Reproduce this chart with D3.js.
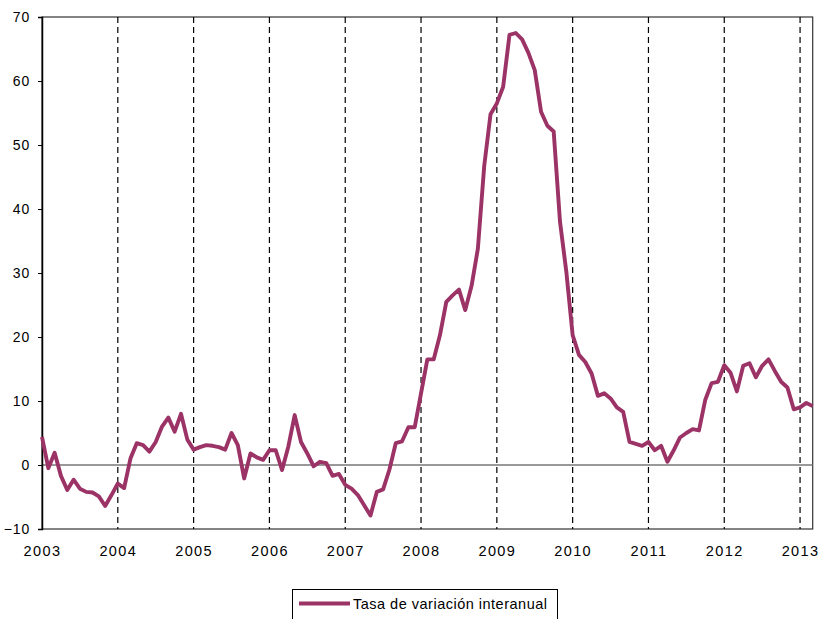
<!DOCTYPE html>
<html>
<head>
<meta charset="utf-8">
<script src="https://cdn.jsdelivr.net/npm/d3@7"></script>
<style>
  body { margin: 0; background: #fff; }
  svg { display: block; font-family: "Liberation Sans", Arial, sans-serif; }
</style>
</head>
<body>
<svg></svg>
<script>
const width = 819;
const height = 619;

// Monthly series, Jan 2003 .. Mar 2013
const seriesName = "Tasa de variación interanual";
const yearLabels = ["2003", "2004", "2005", "2006", "2007", "2008", "2009", "2010", "2011", "2012", "2013"];
const yTicks = [-10, 0, 10, 20, 30, 40, 50, 60, 70];
const values = [
    4.4, -0.5, 1.9, -1.7, -3.9, -2.3, -3.7, -4.2, -4.3, -4.9, -6.4, -4.7,
    -2.9, -3.6, 1.0, 3.4, 3.1, 2.1, 3.6, 6.0, 7.4, 5.2, 8.0, 4.0,
    2.4, 2.8, 3.1, 3.0, 2.8, 2.4, 5.0, 3.1, -2.1, 1.8, 1.2, 0.8,
    2.3, 2.3, -0.8, 2.9, 7.8, 3.6, 1.8, -0.2, 0.5, 0.3, -1.7, -1.4,
    -3.1, -3.7, -4.7, -6.3, -7.9, -4.2, -3.8, -0.7, 3.4, 3.7, 5.9, 5.9,
    11.2, 16.5, 16.5, 20.3, 25.5, 26.5, 27.4, 24.2, 28.0, 33.8, 46.7, 54.8,
    56.5, 59.1, 67.2, 67.5, 66.5, 64.4, 61.7, 55.2, 53.0, 52.1, 38.0, 30.2,
    20.3, 17.2, 16.1, 14.3, 10.8, 11.2, 10.4, 9.0, 8.3, 3.6, 3.3, 3.0,
    3.6, 2.3, 3.0, 0.5, 2.3, 4.3, 5.0, 5.6, 5.4, 10.2, 12.8, 13.0,
    15.6, 14.4, 11.5, 15.5, 15.9, 13.7, 15.5, 16.5, 14.7, 13.0, 12.1, 8.7,
    9.0, 9.7, 9.2
];
const months = d3.range(values.length);

const plot = { left: 42, right: 812.7, top: 17, bottom: 529 };
const color = "#9b3366";

const svg = d3.select("svg").attr("width", width).attr("height", height);

const x = d3.scaleLinear().domain([0, values.length - 1]).range([plot.left, plot.right]);
const y = d3.scaleLinear().domain([-10, 70]).range([plot.bottom, plot.top]);
const yearIdx = yearLabels.map((d, i) => i * 12);

// plot frame
svg.append("rect")
    .attr("x", plot.left).attr("y", plot.top)
    .attr("width", plot.right - plot.left).attr("height", plot.bottom - plot.top)
    .attr("fill", "none").attr("stroke", "#333").attr("stroke-width", 1.2);

// dashed year lines
svg.append("g").selectAll("line")
    .data(yearIdx.slice(1))
    .enter().append("line")
    .attr("x1", d => x(d)).attr("x2", d => x(d))
    .attr("y1", plot.top).attr("y2", plot.bottom)
    .attr("stroke", "#000").attr("stroke-width", 1.2)
    .attr("stroke-dasharray", "6,4");

// zero line
svg.append("line")
    .attr("x1", plot.left).attr("x2", plot.right)
    .attr("y1", y(0)).attr("y2", y(0))
    .attr("stroke", "#777").attr("stroke-width", 1.5);

// y axis
const yAxis = svg.append("g")
    .attr("transform", `translate(${plot.left},0)`)
    .call(d3.axisLeft(y).tickValues(yTicks).tickSize(4).tickPadding(8).tickFormat(d3.format("d")));
yAxis.select(".domain").attr("stroke", "#000").attr("stroke-width", 1.5);
yAxis.selectAll(".tick line").attr("stroke", "#000");
yAxis.selectAll("text")
    .attr("font-family", "Liberation Sans, Arial, sans-serif")
    .attr("font-size", 14).attr("fill", "#000")
    .style("letter-spacing", "0.8px");

// x axis
const xAxis = svg.append("g")
    .attr("transform", `translate(0,${plot.bottom})`)
    .call(d3.axisBottom(x).tickValues(yearIdx).tickSize(0).tickPadding(17)
        .tickFormat((d, i) => yearLabels[i]));
xAxis.select(".domain").remove();
xAxis.selectAll("text")
    .attr("font-family", "Liberation Sans, Arial, sans-serif")
    .attr("font-size", 14.5).attr("fill", "#000")
    .style("letter-spacing", "1.4px");

// series line
const line = d3.line()
    .x(d => x(d))
    .y(d => y(values[d]));
svg.append("path")
    .datum(months)
    .attr("d", line)
    .attr("fill", "none")
    .attr("stroke", color)
    .attr("stroke-width", 3.9)
    .attr("stroke-linejoin", "round")
    .attr("stroke-linecap", "butt");

// legend
const legend = svg.append("g");
legend.append("rect")
    .attr("x", 292.5).attr("y", 589.5)
    .attr("width", 265).attr("height", 40)
    .attr("fill", "#fff").attr("stroke", "#000").attr("stroke-width", 1);
legend.append("line")
    .attr("x1", 299).attr("x2", 350)
    .attr("y1", 603.5).attr("y2", 603.5)
    .attr("stroke", color).attr("stroke-width", 3.9);
legend.append("text")
    .attr("x", 353).attr("y", 608.5)
    .attr("font-size", 14.5)
    .attr("textLength", 194).attr("lengthAdjust", "spacing")
    .text(seriesName);
</script>
</body>
</html>
